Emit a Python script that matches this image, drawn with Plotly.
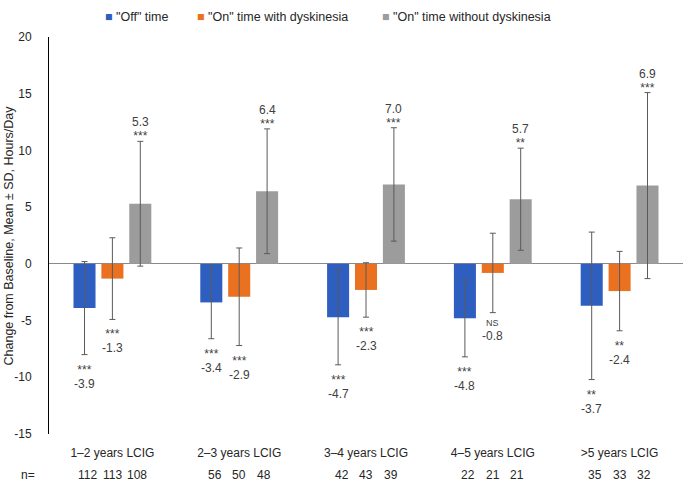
import plotly.graph_objects as go

categories = ["1–2 years LCIG", "2–3 years LCIG", "3–4 years LCIG", "4–5 years LCIG", ">5 years LCIG"]
series_names = ['"Off" time', '"On" time with dyskinesia', '"On" time without dyskinesia']
colors = ["#2E5EBF", "#EA7120", "#9C9C9C"]

off_mean = [-3.9, -3.4, -4.7, -4.8, -3.7]
off_sd = [4.1, 3.2, 4.2, 3.4, 6.5]
off_sig = ["***", "***", "***", "***", "**"]
off_n = [112, 56, 42, 22, 35]

ond_mean = [-1.3, -2.9, -2.3, -0.8, -2.4]
ond_sd = [3.6, 4.3, 2.4, 3.5, 3.5]
ond_sig = ["***", "***", "***", "NS", "**"]
ond_n = [113, 50, 43, 21, 33]

onn_mean = [5.3, 6.4, 7.0, 5.7, 6.9]
onn_sd = [5.5, 5.5, 5.0, 4.5, 8.2]
onn_sig = ["***", "***", "***", "**", "***"]
onn_n = [108, 48, 39, 21, 32]

y_ticks = [-15, -10, -5, 0, 5, 10, 15, 20]
y_tick_labels = ["-15", "-10", "-5", "0", "5", "10", "15", "20"]

means = [off_mean, ond_mean, onn_mean]
sds = [off_sd, ond_sd, onn_sd]
sigs = [off_sig, ond_sig, onn_sig]
ns = [off_n, ond_n, onn_n]

W, H = 685, 485
ML, MR, MT, MB = 49, 2, 37, 51
plot_w = W - ML - MR
bargap = 0.34
unit_px = plot_w / len(categories)
slot_px = unit_px * (1 - bargap) / 3

FONT = "Liberation Sans, Arial, sans-serif"
TXT = "#404040"
DARK = "#262626"

fig = go.Figure()
for j in range(3):
    fig.add_trace(go.Bar(
        x=categories, y=means[j], name=series_names[j],
        marker=dict(color=colors[j], line=dict(width=0)),
        error_y=dict(type="data", array=sds[j], color="#5a5a5a", thickness=1, width=3),
        showlegend=False,
    ))

ann = []
for j in range(3):
    for i, c in enumerate(categories):
        m, s = means[j][i], sds[j][i]
        end = m + s if m > 0 else m - s
        sig = sigs[j][i]
        sig_html = (f'<span style="font-size:12px">{sig}</span>' if sig != "NS"
                    else f'<span style="font-size:9px">{sig}</span>')
        val_html = f'<span style="font-size:12px">{m:.1f}</span>'
        if m > 0:
            text, anchor, shift = f"{val_html}<br>{sig_html}", "bottom", -4
        else:
            text, anchor, shift = f"{sig_html}<br>{val_html}", "top", (-6 if sig != "NS" else -3)
        ann.append(dict(x=c, y=end, xref="x", yref="y", text=text, showarrow=False,
                        xshift=(j - 1) * slot_px, yshift=shift, yanchor=anchor,
                        font=dict(family=FONT, size=11, color=TXT)))
        ann.append(dict(x=c, y=0, xref="x", yref="paper", text=str(ns[j][i]), showarrow=False,
                        xshift=(j - 1) * 24.5, yshift=-41, yanchor="middle",
                        font=dict(family=FONT, size=12, color=DARK)))

ann.append(dict(x=(19 - ML) / plot_w, y=0, xref="paper", yref="paper", text="n=", showarrow=False,
                yshift=-41, yanchor="middle", font=dict(family=FONT, size=12, color=DARK)))

# legend
leg_x = [103, 195, 380]
for j in range(3):
    ann.append(dict(x=(leg_x[j] - ML) / plot_w, y=1, xref="paper", yref="paper",
                    text=f'<span style="color:{colors[j]}">■</span> {series_names[j]}',
                    showarrow=False, xanchor="left", yanchor="middle", yshift=MT - 17,
                    font=dict(family=FONT, size=12.5, color=DARK)))

# y title
ann.append(dict(x=(8 - ML) / plot_w, y=0.5, xref="paper", yref="paper",
                text="Change from Baseline, Mean ± SD, Hours/Day", textangle=-90,
                showarrow=False, xanchor="center", yanchor="middle",
                font=dict(family=FONT, size=12.5, color=DARK)))

fig.update_layout(
    width=W, height=H, margin=dict(l=ML, r=MR, t=MT, b=MB),
    paper_bgcolor="white", plot_bgcolor="white",
    barmode="group", bargap=bargap, bargroupgap=0.21,
    annotations=ann,
    font=dict(family=FONT, size=12, color=DARK),
    xaxis=dict(type="category", range=[-0.5, 4.5], showline=False, showgrid=False,
               ticks="", tickfont=dict(size=12, color=DARK), ticklabelstandoff=10),
    yaxis=dict(range=[-15, 20], tickvals=y_ticks, ticktext=y_tick_labels,
               showline=True, linecolor="#000000", linewidth=1,
               showgrid=False, zeroline=True, zerolinecolor="#8a8a8a", zerolinewidth=1,
               ticks="", ticklabelstandoff=14, tickfont=dict(size=12, color=DARK)),
)

fig.write_html("out.html", config={"displayModeBar": False},
               post_script="document.body.style.margin='0';")
